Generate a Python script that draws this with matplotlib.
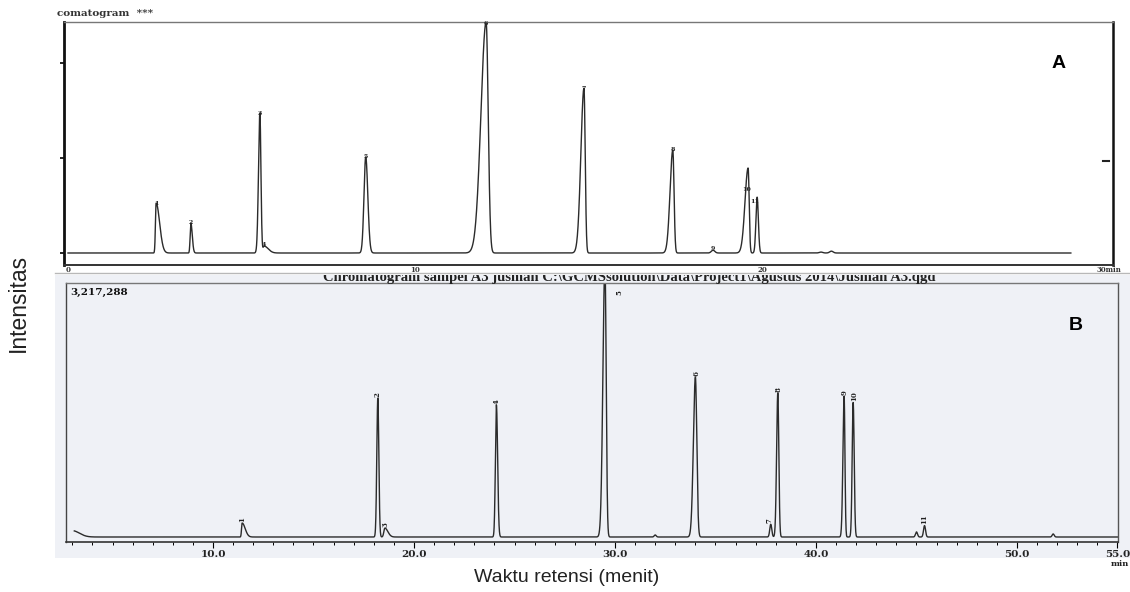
import numpy as np
import matplotlib
matplotlib.use("Agg")
import matplotlib.pyplot as plt
from matplotlib.patches import Rectangle

# ---------------- data ----------------
# Panel A (standard): retention time (min), relative height, left/right peak widths
rt_A = [2.54, 3.54, 5.53, 5.65, 8.58, 12.05, 14.87, 17.43, 18.59, 19.60, 19.86, 21.70, 22.00]
h_A = [0.216, 0.130, 0.606, 0.030, 0.416, 1.000, 0.714, 0.446, 0.012, 0.368, 0.242, 0.004, 0.008]
sl_A = [0.020, 0.020, 0.040, 0.030, 0.050, 0.150, 0.090, 0.080, 0.050, 0.090, 0.035, 0.050, 0.050]
sr_A = [0.100, 0.040, 0.030, 0.120, 0.060, 0.060, 0.035, 0.035, 0.050, 0.030, 0.035, 0.050, 0.050]
lab_A_text = ["1", "2", "3", "4", "5", "6", "7", "8", "9", "10", "11"]
lab_A_x = [2.54, 3.54, 5.53, 5.66, 8.58, 12.05, 14.87, 17.43, 18.59, 19.55, 19.80]
lab_A_y = [0.216, 0.130, 0.606, 0.035, 0.416, 0.995, 0.714, 0.446, 0.020, 0.273, 0.222]
ticks_A = [0, 10, 20, 30]
ticklab_A = ["0", "10", "20", "30min"]

# Panel B (sample A3): retention time (min), intensity, left/right peak widths
rt_B = [3.00, 11.45, 18.20, 18.55, 24.10, 29.50, 32.00, 34.00, 37.75, 38.10, 41.40, 41.85, 45.00, 45.40, 51.80]
h_B = [80400, 177000, 1760000, 112600, 1673000, 3475000, 25700, 2027000, 160900, 1824000, 1786000, 1705000, 64300, 144800, 38600]
sl_B = [0.05, 0.03, 0.05, 0.05, 0.05, 0.10, 0.05, 0.10, 0.05, 0.06, 0.06, 0.05, 0.05, 0.05, 0.05]
sr_B = [0.35, 0.15, 0.05, 0.15, 0.06, 0.06, 0.05, 0.07, 0.05, 0.05, 0.04, 0.05, 0.05, 0.05, 0.05]
lab_B_text = ["1", "2", "3", "4", "5", "6", "7", "8", "9", "10", "11"]
lab_B_x = [11.45, 18.20, 18.60, 24.10, 30.20, 34.05, 37.70, 38.15, 41.40, 41.90, 45.40]
lab_B_y = [177000, 1760000, 112600, 1673000, 3050000, 2027000, 160900, 1824000, 1786000, 1705000, 144800]
ticks_B = [10, 20, 30, 40, 50, 55]
ticklab_B = ["10.0", "20.0", "30.0", "40.0", "50.0", "55.0"]
top_B = 3217288


def chrom(t, rts, hs, sls, srs):
    y = np.zeros_like(t)
    for r, h, a, b in zip(rts, hs, sls, srs):
        s = np.where(t < r, a, b)
        y += h * np.exp(-0.5 * ((t - r) / s) ** 2)
    return y


W, H = 1130, 592
fig = plt.figure(figsize=(W / 100, H / 100), dpi=100)
fig.patch.set_facecolor("white")

def fx(x):
    return x / W

def fy(y):
    return 1 - y / H

# tinted scan region of panel B
fig.patches.append(Rectangle((fx(55), fy(558)), fx(W - 55), (558 - 272) / H,
                             transform=fig.transFigure, facecolor="#eff1f6",
                             edgecolor="none", zorder=-5))

serif_b = dict(family="DejaVu Serif", fontweight="bold")
ink = "#2b2b2b"

# cropped header of panel B (upper part hidden under panel A's strip)
fig.text(fx(323), fy(281.5),
         "Chromatogram sampel A3 jusman C:\\GCMSsolution\\Data\\Project1\\Agustus 2014\\Jusman A3.qgd",
         ha="left", va="baseline", fontsize=10.5, family="Liberation Serif",
         fontweight="bold", color="#222222", zorder=1)
fig.patches.append(Rectangle((0, fy(274.5)), 1, (274.5 - 262) / H,
                             transform=fig.transFigure, facecolor="white",
                             edgecolor="none", zorder=2))
fig.add_artist(plt.Line2D([fx(55), 1], [fy(273), fy(273)], transform=fig.transFigure,
                          color="#b8b8b8", lw=1.0, zorder=2.5))

# ---------------- Panel A ----------------
axA = fig.add_axes([fx(64), fy(265), (1113 - 64) / W, (265 - 22) / H])
axA.set_zorder(3)
axA.set_facecolor("white")
tA = np.linspace(0, 28.9, 6000)
axA.plot(tA, chrom(tA, rt_A, h_A, sl_A, sr_A), color=ink, lw=1.0)
axA.set_xlim((64 - 68) / 34.7, (1113 - 68) / 34.7)
axA.set_ylim(-12 / 231, 1.0)
axA.set_xticks(ticks_A)
axA.set_xticklabels(ticklab_A, fontsize=5, **serif_b)
axA.tick_params(axis="x", length=0, pad=0.8, colors="#333333")
axA.set_yticks([0, 0.411, 0.822])
axA.set_yticklabels([])
axA.tick_params(axis="y", length=3, width=1.2, direction="out")
for sp, lw, c in [("left", 2.0, "#111111"), ("right", 1.8, "#111111"),
                  ("top", 1.0, "#777777"), ("bottom", 1.4, "#333333")]:
    axA.spines[sp].set_linewidth(lw)
    axA.spines[sp].set_color(c)
axA.plot([0.99, 0.996], [0.43, 0.43], transform=axA.transAxes, color="#222222", lw=1.5)
for s, x, y in zip(lab_A_text, lab_A_x, lab_A_y):
    axA.text(x, y, s, ha="center", va="center", fontsize=4.5, color="#222222",
             clip_on=False, **serif_b)
axA.text(0.948, 0.83, "A", transform=axA.transAxes, ha="center", va="center",
         fontsize=14, fontweight="bold", family="Liberation Sans", color="black")

fig.text(fx(57), fy(13.5), "comatogram  ***", ha="left", va="center", fontsize=7.5,
         color="#333333", **serif_b)

# ---------------- Panel B ----------------
axB = fig.add_axes([fx(66), fy(542), (1118 - 66) / W, (542 - 283) / H])
axB.set_facecolor("#eff1f6")
tB = np.linspace(3.1, 55.0, 8000)
axB.plot(tB, chrom(tB, rt_B, h_B, sl_B, sr_B), color=ink, lw=1.0)
axB.set_xlim((66 - 12) / 20.1, (1118 - 12) / 20.1)
axB.set_ylim(-5 / 254 * top_B, top_B)
axB.set_xticks(ticks_B)
axB.set_xticklabels(ticklab_B, fontsize=7.5, color="#222222", **serif_b)
axB.set_xticks(np.arange(3, 55, 1), minor=True)
axB.tick_params(axis="x", which="major", length=4, width=0.8, pad=2, direction="out")
axB.tick_params(axis="x", which="minor", length=2.5, width=0.7, direction="out")
axB.set_yticks([])
for sp, lw, c in [("left", 1.0, "#444444"), ("right", 1.0, "#555555"),
                  ("top", 1.0, "#777777"), ("bottom", 1.2, "#333333")]:
    axB.spines[sp].set_linewidth(lw)
    axB.spines[sp].set_color(c)
for s, x, y in zip(lab_B_text, lab_B_x, lab_B_y):
    axB.text(x, y + 15000, s, ha="center", va="bottom", rotation=90, fontsize=5,
             color="#222222", clip_on=False, **serif_b)
axB.text(0.004, 0.965, "3,217,288", transform=axB.transAxes, ha="left", va="center",
         fontsize=7.5, color="#111111", **serif_b)
axB.text(0.960, 0.835, "B", transform=axB.transAxes, ha="center", va="center",
         fontsize=14, fontweight="bold", family="Liberation Sans", color="black")
fig.text(fx(1120), fy(564), "min", ha="center", va="center", fontsize=6,
         color="#222222", **serif_b)

# ---------------- axis titles ----------------
fig.text(fx(18), fy(303), "Intensitas", rotation=90, ha="center", va="center",
         fontsize=16.5, family="Liberation Sans", color="#222222")
fig.text(fx(567), fy(578), "Waktu retensi (menit)", ha="center", va="center",
         fontsize=14, family="Liberation Sans", color="#222222")

fig.savefig("out.png", dpi=100, facecolor="white")
